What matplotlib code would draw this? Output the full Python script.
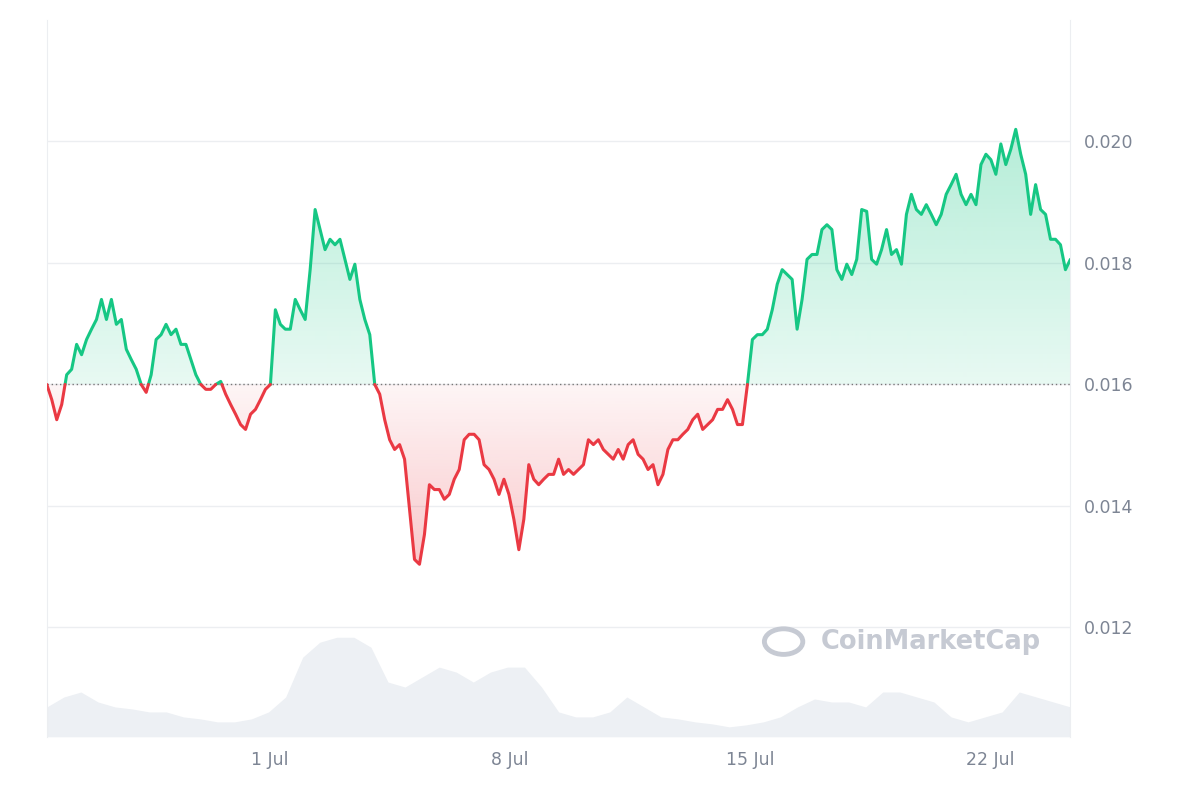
import numpy as np
import pandas as pd
import matplotlib
matplotlib.use("Agg")
import matplotlib.pyplot as plt
import matplotlib.dates as mdates
from matplotlib.colors import to_rgb

prices_milli = [16.00,15.75,15.42,15.67,16.16,16.25,16.66,16.49,16.74,16.91,17.07,17.40,17.07,17.40,16.99,17.07,16.58,16.41,16.25,16.00,15.87,16.16,16.74,16.82,16.99,16.82,16.91,16.66,16.66,16.41,16.16,16.00,15.92,15.92,16.00,16.05,15.84,15.67,15.51,15.34,15.26,15.51,15.59,15.75,15.92,16.00,
17.23,16.99,16.91,16.91,17.40,17.23,17.07,17.89,18.88,18.55,18.22,18.39,18.30,18.39,18.06,17.73,17.98,17.40,17.07,16.82,16.00,15.84,15.42,15.09,14.93,15.01,14.77,13.94,13.12,13.04,13.53,14.35,14.27,14.27,14.11,14.19,14.44,14.60,15.09,15.18,15.18,15.09,14.68,14.60,14.44,14.19,14.44,14.19,13.78,13.28,13.78,14.68,14.44,14.35,14.44,14.52,14.52,14.77,14.52,14.60,14.52,14.60,14.68,15.09,15.01,15.09,14.93,14.85,14.77,14.93,14.77,15.01,15.09,14.85,14.77,14.60,14.68,14.35,14.52,14.93,15.09,15.09,15.18,15.26,15.42,15.51,15.26,15.34,15.42,15.59,15.59,15.75,15.59,15.34,15.34,16.00,
16.74,16.82,16.82,16.91,17.23,17.65,17.89,17.81,17.73,16.91,17.40,18.06,18.14,18.14,18.55,18.63,18.55,17.89,17.73,17.98,17.81,18.06,18.88,18.85,18.06,17.98,18.22,18.55,18.14,18.22,17.98,18.80,19.13,18.88,18.80,18.96,18.80,18.63,18.80,19.13,19.29,19.46,19.13,18.96,19.13,18.96,19.62,19.79,19.70,19.46,19.96,19.62,19.87,20.20,19.79,19.46,18.80,19.29,18.88,18.80,18.39,18.39,18.30,17.89,18.06]
volume = [30,40,45,35,30,28,25,25,20,18,15,15,18,25,40,80,95,100,100,90,55,50,60,70,65,55,65,70,70,50,25,20,20,25,40,30,20,18,15,13,10,12,15,20,30,38,35,35,30,45,45,40,35,20,15,20,25,45,40,35,30]
baseline = 0.016
start, end = "2024-06-24 12:00", "2024-07-24 08:00"

prices = np.array(prices_milli) / 1000
t = pd.date_range(start, end, periods=len(prices))
x = mdates.date2num(t)

xs, ys = [x[0]], [prices[0]]
for i in range(1, len(x)):
    a, b = prices[i-1] - baseline, prices[i] - baseline
    if a * b < 0:
        f = a / (a - b)
        xs.append(x[i-1] + f * (x[i] - x[i-1])); ys.append(baseline)
    xs.append(x[i]); ys.append(prices[i])
xs, ys = np.array(xs), np.array(ys)

green, red = "#16c784", "#ea3943"
fig = plt.figure(figsize=(12, 8), dpi=100)
ax = fig.add_axes([0.039, 0.079, 0.853, 0.896])
xmin, xmax = x[0], x[-1]
ax.set_xlim(xmin, xmax)
ax.set_ylim(0.0102, 0.022)

vx = np.linspace(xmin, xmax, len(volume))
axv = ax.twinx()
axv.set_ylim(0, max(volume) * 7.2)
axv.fill_between(vx, volume, 0, color="#edf0f4", lw=0, zorder=0)
axv.axis("off")
ax.set_zorder(axv.get_zorder() + 1); ax.patch.set_visible(False)

def grad_fill(col, where, top, bot, a_top, a_bot):
    poly = ax.fill_between(xs, ys, baseline, where=where, color="none", lw=0)
    rgb = to_rgb(col)
    n = 256
    img = np.zeros((n, 1, 4))
    img[:, 0, :3] = rgb
    img[:, 0, 3] = np.linspace(a_bot, a_top, n)
    im = ax.imshow(img, extent=[xmin, xmax, bot, top], origin="lower", aspect="auto", zorder=1)
    im.set_clip_path(poly.get_paths()[0], transform=ax.transData) if len(poly.get_paths()) == 1 else None
    from matplotlib.path import Path
    paths = poly.get_paths()
    verts = np.concatenate([p.vertices for p in paths]); codes = np.concatenate([p.codes if p.codes is not None else np.full(len(p.vertices), Path.LINETO) for p in paths])
    im.set_clip_path(Path(verts, codes), transform=ax.transData)

grad_fill(green, ys >= baseline, 0.0202, baseline, 0.32, 0.1)
grad_fill(red, ys <= baseline, baseline, 0.0130, 0.05, 0.28)
ax.set_xlim(xmin, xmax); ax.set_ylim(0.0102, 0.022)

yg = np.where(ys >= baseline, ys, np.nan)
yr = np.where(ys <= baseline, ys, np.nan)
ax.plot(xs, yg, color=green, lw=2.2, solid_capstyle="round", zorder=3)
ax.plot(xs, yr, color=red, lw=2.2, solid_capstyle="round", zorder=3)
ax.axhline(baseline, color="#777", lw=1, ls=(0, (1, 2)), zorder=2)

ax.set_yticks([0.012, 0.014, 0.016, 0.018, 0.020])
ax.yaxis.tick_right()
ax.yaxis.set_major_formatter(matplotlib.ticker.FuncFormatter(lambda v, p: f"{v:.3f}"))
ax.grid(axis="y", color="#eceef1", lw=1)
ax.set_axisbelow(True)
ticks = pd.to_datetime(["2024-07-01", "2024-07-08", "2024-07-15", "2024-07-22"])
ax.set_xticks(mdates.date2num(ticks))
ax.set_xticklabels(["1 Jul", "8 Jul", "15 Jul", "22 Jul"])
ax.tick_params(length=0, labelsize=12.5, colors="#7d8594", pad=10)
for s in ["top", "bottom"]:
    ax.spines[s].set_visible(False)
for s in ["left", "right"]:
    ax.spines[s].set_color("#eceef1")

fig.text(0.684, 0.198, "CoinMarketCap", fontsize=18.5, color="#c6cad3", fontweight="semibold", va="center")
fig.patches.append(matplotlib.patches.Circle((0.653, 0.198), 0.016, transform=fig.transFigure,
                   fill=False, ec="#c6cad3", lw=3.5))
fig.savefig("out.png")
